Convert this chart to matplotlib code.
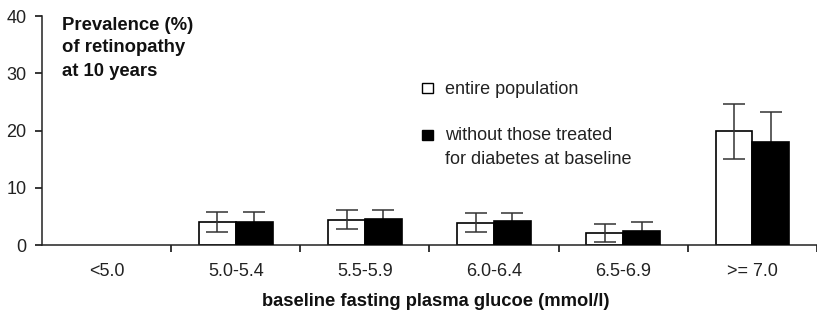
import numpy as np
import matplotlib
matplotlib.use("Agg")
import matplotlib.pyplot as plt
from matplotlib.patches import Rectangle

plt.rcParams["font.family"] = ["Liberation Sans", "DejaVu Sans"]

categories = ["<5.0", "5.0-5.4", "5.5-5.9", "6.0-6.4", "6.5-6.9", ">= 7.0"]
# entire population
prev_all = [np.nan, 4.0, 4.4, 3.9, 2.15, 19.9]
err_all = [np.nan, 1.8, 1.65, 1.7, 1.6, 4.8]
# without those treated for diabetes at baseline
prev_untreated = [np.nan, 4.0, 4.6, 4.2, 2.45, 18.0]
err_untreated = [np.nan, 1.8, 1.45, 1.4, 1.65, 5.3]

W, H = 817, 318
fig = plt.figure(figsize=(W / 100, H / 100), dpi=100)
ax = fig.add_axes([42 / W, 1 - 245 / H, (817 - 42) / W, (245 - 16) / H])

x = np.arange(len(categories))
bw = 0.285
ekw = dict(ecolor="#333333", elinewidth=1.1, capsize=8, capthick=1.1)
# white bars: error bar drawn on top; black bars: lower half hidden behind bar
ax.bar(x - bw / 2, prev_all, bw, yerr=err_all, color="white",
       edgecolor="black", linewidth=1.2, error_kw=dict(ekw, zorder=4), zorder=2)
ax.bar(x + bw / 2, prev_untreated, bw, yerr=err_untreated, color="black",
       edgecolor="black", linewidth=1.2, error_kw=dict(ekw, zorder=1), zorder=3)

ax.set_xlim(-0.5, -0.5 + 775 / 130)
ax.set_ylim(0, 40)
ax.set_yticks([0, 10, 20, 30, 40])
ax.tick_params(axis="y", length=5, width=1.1, pad=6, labelsize=13,
               labelcolor="#222222")
# category boundaries get tick marks, labels sit at centres
ax.set_xticks(np.arange(len(categories)) + 0.5)
ax.set_xticklabels([])
ax.tick_params(axis="x", which="major", length=5, width=1.1, direction="out")
ax.set_xticks(x, minor=True)
ax.set_xticklabels(categories, minor=True)
ax.tick_params(axis="x", which="minor", length=0, pad=13, labelsize=13,
               labelcolor="#222222")

for s in ["top", "right"]:
    ax.spines[s].set_visible(False)
for s in ["left", "bottom"]:
    ax.spines[s].set_linewidth(1.1)
    ax.spines[s].set_color("#222222")

# y-axis caption inside the plot
for txt, yp in [("Prevalence (%)", 25), ("of retinopathy", 48), ("at 10 years", 72)]:
    fig.text(62 / W, 1 - yp / H, txt, fontsize=13.3, fontweight="bold",
             va="center", ha="left", color="#111111")

fig.text(436 / W, 1 - 302 / H, "baseline fasting plasma glucoe (mmol/l)",
         fontsize=13.2, fontweight="bold", ha="center", va="center",
         color="#111111")

# legend drawn by hand (first line aligned with the square)
fig.add_artist(Rectangle((422 / W, 1 - 93 / H), 11 / W, 10 / H,
                         transform=fig.transFigure, facecolor="white",
                         edgecolor="black", linewidth=1.0))
fig.add_artist(Rectangle((422 / W, 1 - 140 / H), 11 / W, 10 / H,
                         transform=fig.transFigure, facecolor="black",
                         edgecolor="black", linewidth=1.0))
fig.text(445 / W, 1 - 89 / H, "entire population", fontsize=13,
         va="center", color="#222222")
fig.text(445 / W, 1 - 136 / H, "without those treated", fontsize=13,
         va="center", color="#222222")
fig.text(445 / W, 1 - 159 / H, "for diabetes at baseline", fontsize=13,
         va="center", color="#222222")

fig.savefig("out.png", dpi=100)
